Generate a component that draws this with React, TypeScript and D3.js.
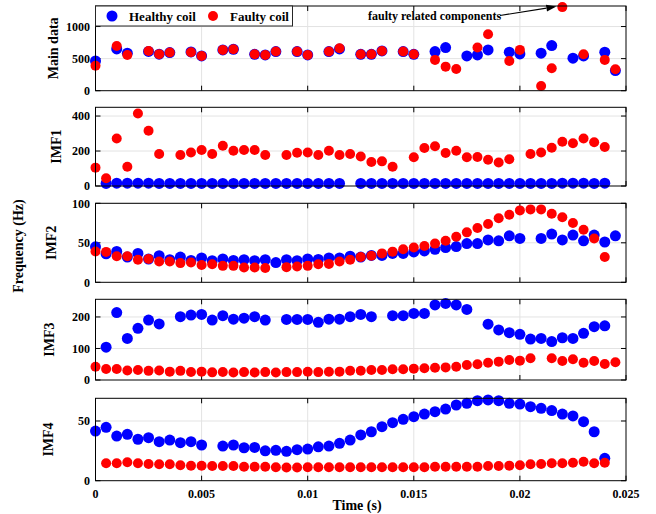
import React from 'react'
import * as d3 from 'd3'

const W = 656
const H = 514
const FONT = '"Liberation Serif", "Times New Roman", serif'

// time axis (s)
const time = [
	0, 0.0005, 0.001, 0.0015, 0.002, 0.0025, 0.003, 0.0035, 0.004, 0.0045,
	0.005, 0.0055, 0.006, 0.0065, 0.007, 0.0075, 0.008, 0.0085, 0.009, 0.0095,
	0.01, 0.0105, 0.011, 0.0115, 0.012, 0.0125, 0.013, 0.0135, 0.014, 0.0145,
	0.015, 0.0155, 0.016, 0.0165, 0.017, 0.0175, 0.018, 0.0185, 0.019, 0.0195,
	0.02, 0.0205, 0.021, 0.0215, 0.022, 0.0225, 0.023, 0.0235, 0.024, 0.0245,
]

const mainHealthy = [
	463, null, 651, 584, null, 612, 570, 594, null, 605,
	542, null, 636, 646, null, 567, 557, 610, null, 610,
	557, null, 610, 651, null, 567, 567, 620, null, 610,
	567, null, 610, 672, null, 542, 557, 636, null, 600,
	573, null, 584, 703, null, 506, 542, null, 600, 313,
]
const mainFaulty = [
	390, null, 698, 557, null, 620, 570, 594, null, 600,
	542, null, 636, 646, null, 567, 557, 610, null, 610,
	557, null, 610, 661, null, 567, 567, 620, null, 610,
	567, null, 480, 375, 339, null, 672, 881, null, 464,
	636, null, 73, 349, 1303, null, 567, null, 480, 334,
]
const imf1Healthy = [
	null, 15, 16, 16, 16, 16, 15, 15, 15, 15,
	15, 15, 15, 15, 15, 15, 15, 15, 15, 15,
	15, 15, 15, 15, null, 15, 15, 15, 15, 15,
	15, 15, 15, 15, 15, 15, 15, 15, 15, 15,
	15, 15, 15, 15, 16, 16, 16, 15, 16, null,
]
const imf1Faulty = [
	105, 44, 272, 110, 415, 316, 183, null, 177, 192,
	206, 183, 230, 202, 206, 206, 177, null, 177, 190,
	192, 177, 202, 177, 183, 169, 137, 141, 110, null,
	164, 217, 227, 189, 202, 164, 166, 150, 134, 153,
	null, 183, 192, 219, 253, 244, 272, 250, 223, null,
]
const imf2Healthy = [
	44.9, 36, 39, 32, 36.6, 29.5, 33.7, 28.6, 32, 27.7,
	30.8, 27.3, 29.5, 27.7, 28.6, 27.3, 28.6, 25, 28.6, 27.3,
	29.5, 29, 30.8, 30.8, 33, 32, 34, 34, 36.6, 36.6,
	38.4, 39.7, 41.8, 44, 45.2, 49, 49, 53.7, 52.5, 58.9,
	55.5, null, 55.5, 61, 53.7, 59.8, 52.5, 59.8, 51, 58.9,
]
const imf2Faulty = [
	39, 38.5, 33, 33, 28.6, 29.5, 26.4, 26.4, 24.3, 25,
	22, 22.8, 20.8, 20.8, 18.8, 18.8, 18, null, 19.2, 20,
	20.8, 22.8, 23.3, 26.4, 28.6, 32, 33.7, 36.6, 38.8, 41.8,
	44, 46, 49, 52.5, 57.6, 63.2, 68.7, 73.8, 81, 85.4,
	91, 92.3, 92.3, 86.7, 82.4, 75, 66.5, 55.5, 32, null,
]
const imf3Healthy = [
	null, 104, 214, 132, 164, 190, 178, null, 201, 206,
	208, 190, 204, 193, 196, 201, 190, null, 192, 192,
	192, 183, 193, 193, 201, 208, 201, null, 204, 204,
	211, 211, 238, 243, 238, 224, null, 177, 159, 150,
	145, 130, 132, 122, 134, 132, 148, 169, 172, null,
]
const imf3Faulty = [
	42, 35, 35, 30, 32, 29, 30, 26.5, 29, 25.4,
	26.5, 24.3, 25.4, 24, 25, 24, 25, 24, 25, 25,
	26, 25, 26, 26.5, 29.6, 29.6, 31.7, 31.7, 33.9, 33.9,
	36, 37, 39, 40, 42.3, 47.6, 49.7, 55, 58.2, 63.5,
	61.4, 68.8, null, 68.8, 60.3, 65.6, 55, 60.3, 51, 56.3,
]
const imf4Healthy = [
	41.6, 44.7, 37.4, 38.8, 34.7, 36, 32.7, 34, 31.8, 32.7,
	29.9, null, 29, 29.9, 27.6, 27.9, 25, 25.4, 24.6, 26,
	26.5, 28.4, 29, 31.3, 34, 38.3, 41, 45.2, 48.6, 51.4,
	53.6, 55.8, 57.8, 60, 63.4, 64.8, 67, 67.6, 67, 64.8,
	64.2, 62, 60.6, 58.7, 55.8, 54.2, 49.4, 41, 18.7, null,
]
const imf4Faulty = [
	null, 14.6, 14.6, 15.4, 14.6, 14, 13.7, 13.7, 13, 12.5,
	12.5, 12.3, 12.3, 12.3, 11.7, 11.7, 11.7, 11.2, 11, 11,
	11.2, 11.2, 11.2, 11.2, 11.2, 11.2, 11.2, 11.2, 11.2, 11.2,
	11.2, 11.2, 11.7, 11.7, 11.7, 11.7, 11.7, 12.3, 12.3, 12.6,
	13, 13.7, 14, 14.6, 14.6, 15.1, 15.9, 14.6, 15.1, null,
]

const xTicks = [0, 0.005, 0.01, 0.015, 0.02, 0.025]
const xTickLabels = ['0', '0.005', '0.01', '0.015', '0.02', '0.025']
const mainTicks = [0, 500, 1000]
const imf1Ticks = [0, 200, 400]
const imf2Ticks = [0, 50, 100]
const imf3Ticks = [0, 100, 200]
const imf4Ticks = [0, 50]

const panelLabels = ['Main data', 'IMF1', 'IMF2', 'IMF3', 'IMF4']
const legendLabels = ['Healthy coil', 'Faulty coil']
const annotationText = 'faulty related components'

const left = 95.5
const right = 626
const panelTops = [6, 107.3, 203.3, 299.3, 398.3]
const panelBottoms = [90.7, 186, 282.3, 380, 480.7]
const labelXs = [58, 61.3, 56.3, 54, 53]
const tickLen = 5

const panels = [
	{ healthy: mainHealthy, faulty: mainFaulty, yMax: 1320, ticks: mainTicks },
	{ healthy: imf1Healthy, faulty: imf1Faulty, yMax: 450, ticks: imf1Ticks },
	{ healthy: imf2Healthy, faulty: imf2Faulty, yMax: 100, ticks: imf2Ticks },
	{ healthy: imf3Healthy, faulty: imf3Faulty, yMax: 256, ticks: imf3Ticks },
	{ healthy: imf4Healthy, faulty: imf4Faulty, yMax: 69, ticks: imf4Ticks },
]

const x = d3.scaleLinear().domain([0, 0.025]).range([left, right])

const Panel = ({ p, i }) => {
	const top = panelTops[i]
	const bottom = panelBottoms[i]
	const y = d3.scaleLinear().domain([0, p.yMax]).range([bottom, top])
	const last = i === panels.length - 1
	const dotsH = time.map((t, k) => ({ t, v: p.healthy[k] })).filter(d => d.v != null)
	const dotsF = time.map((t, k) => ({ t, v: p.faulty[k] })).filter(d => d.v != null)
	return (
		<g>
			{/* grid */}
			{xTicks.slice(1, -1).map(t => (
				<line key={'gx' + t} x1={x(t)} x2={x(t)} y1={top} y2={bottom} stroke="#e3e3e3" strokeWidth={1} />
			))}
			{p.ticks.filter(t => t > 0).map(t => (
				<line key={'gy' + t} x1={left} x2={right} y1={y(t)} y2={y(t)} stroke="#e3e3e3" strokeWidth={1} />
			))}
			{/* ticks, inside on every side */}
			{xTicks.map(t => (
				<g key={'tx' + t}>
					<line x1={x(t)} x2={x(t)} y1={bottom} y2={bottom - tickLen} stroke="#000" />
					<line x1={x(t)} x2={x(t)} y1={top} y2={top + tickLen} stroke="#000" />
				</g>
			))}
			{p.ticks.map(t => (
				<g key={'ty' + t}>
					<line x1={left} x2={left + tickLen} y1={y(t)} y2={y(t)} stroke="#000" />
					<line x1={right} x2={right - tickLen} y1={y(t)} y2={y(t)} stroke="#000" />
					<text x={left - 5.5} y={y(t)} dy="0.35em" textAnchor="end" fontSize={12} fontWeight="bold" fontFamily={FONT} fill="#000">
						{t}
					</text>
				</g>
			))}
			{/* data */}
			{dotsH.map(d => (
				<circle key={'h' + d.t} cx={x(d.t)} cy={y(d.v)} r={5.5} fill="#0000ff" />
			))}
			{dotsF.map(d => (
				<circle key={'f' + d.t} cx={x(d.t)} cy={y(d.v)} r={5} fill="#ff0000" />
			))}
			<rect x={left} y={top} width={right - left} height={bottom - top} fill="none" stroke="#000" strokeWidth={1} />
			<text
				transform={`translate(${labelXs[i]},${(top + bottom) / 2}) rotate(-90)`}
				textAnchor="middle"
				fontSize={14}
				fontWeight="bold"
				fontFamily={FONT}
				fill="#000"
			>
				{panelLabels[i]}
			</text>
			{last &&
				xTicks.map((t, k) => (
					<text key={'xl' + t} x={x(t)} y={498} textAnchor="middle" fontSize={12} fontWeight="bold" fontFamily={FONT} fill="#000">
						{xTickLabels[k]}
					</text>
				))}
		</g>
	)
}

export default function App() {
	// annotation arrow aimed at the outlying faulty point in the main data panel
	const yMain = d3.scaleLinear().domain([0, panels[0].yMax]).range([panelBottoms[0], panelTops[0]])
	const tipX = x(time[44]) - 6
	const tipY = yMain(mainFaulty[44]) - 0.5
	const startX = 500
	const startY = 15.5
	const ang = Math.atan2(tipY - startY, tipX - startX)
	const ah = 10
	const aw = 3.5
	const bx = tipX - ah * Math.cos(ang)
	const by = tipY - ah * Math.sin(ang)
	const head = [
		[tipX, tipY],
		[bx + aw * Math.sin(ang), by - aw * Math.cos(ang)],
		[bx - aw * Math.sin(ang), by + aw * Math.cos(ang)],
	]
	return (
		<svg width={W} height={H} style={{ position: 'absolute', left: 0, top: 0, background: '#fff' }}>
			<rect width={W} height={H} fill="#fff" />
			{panels.map((p, i) => (
				<Panel key={i} p={p} i={i} />
			))}
			{/* legend */}
			<g>
				<rect x={left} y={6} width={197} height={20} fill="#fff" stroke="#262626" strokeWidth={1} />
				<circle cx={112} cy={16} r={5.5} fill="#0000ff" />
				<text x={129} y={20.5} fontSize={13} fontWeight="bold" fontFamily={FONT} fill="#000">
					{legendLabels[0]}
				</text>
				<circle cx={213} cy={16} r={5} fill="#ff0000" />
				<text x={230} y={20.5} fontSize={13} fontWeight="bold" fontFamily={FONT} fill="#000">
					{legendLabels[1]}
				</text>
			</g>
			{/* annotation */}
			<text x={368} y={19.5} fontSize={12} fontWeight="bold" fontFamily={FONT} fill="#000">
				{annotationText}
			</text>
			<line x1={startX} y1={startY} x2={bx} y2={by} stroke="#000" strokeWidth={1.2} />
			<polygon points={head.map(d => d.join(',')).join(' ')} fill="#000" />
			{/* shared labels */}
			<text
				transform={`translate(23,246) rotate(-90)`}
				textAnchor="middle"
				fontSize={14}
				fontWeight="bold"
				fontFamily={FONT}
				fill="#000"
			>
				Frequency (Hz)
			</text>
			<text x={357} y={510} textAnchor="middle" fontSize={14} fontWeight="bold" fontFamily={FONT} fill="#000">
				Time (s)
			</text>
		</svg>
	)
}
